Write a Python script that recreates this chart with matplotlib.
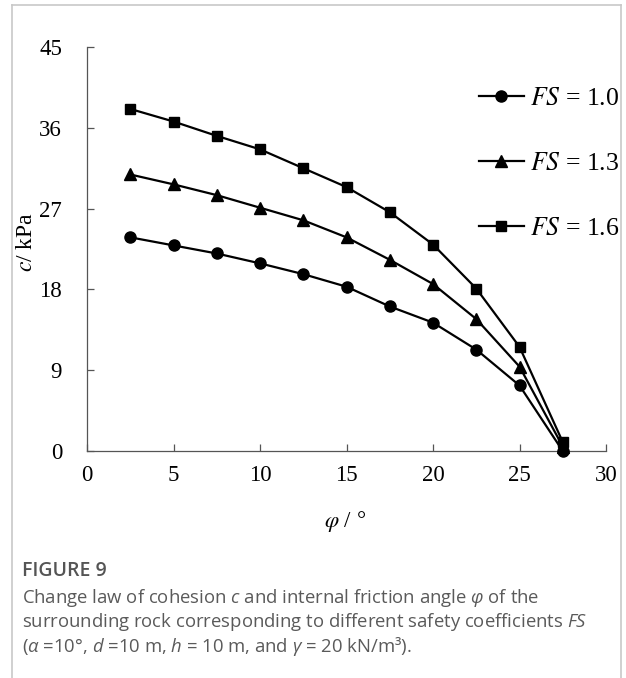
import matplotlib
matplotlib.use("Agg")
import matplotlib.pyplot as plt
from matplotlib.lines import Line2D

## values
phi = [2.5, 5, 7.5, 10, 12.5, 15, 17.5, 20, 22.5, 25, 27.5]
c_fs10 = [23.8, 22.9, 22.0, 20.9, 19.7, 18.3, 16.1, 14.3, 11.3, 7.3, 0.0]
c_fs13 = [30.8, 29.7, 28.5, 27.1, 25.7, 23.8, 21.3, 18.6, 14.7, 9.4, 0.5]
c_fs16 = [38.1, 36.7, 35.1, 33.6, 31.5, 29.4, 26.6, 23.0, 18.1, 11.6, 1.0]
series_labels = ['1.0', '1.3', '1.6']
series_markers = ['o', '^', 's']
x_ticks = [0, 5, 10, 15, 20, 25, 30]
y_ticks = [0, 9, 18, 27, 36, 45]

caption_title = "FIGURE 9"
caption_lines = [
    r"Change law of cohesion $c$ and internal friction angle $\varphi$ of the",
    r"surrounding rock corresponding to different safety coefficients $FS$",
    r"($\alpha$ =10°, $d$ =10 m, $h$ = 10 m, and $\gamma$ = 20 kN/m³).",
]

plt.rcParams['mathtext.fontset'] = 'custom'
plt.rcParams['mathtext.rm'] = 'Open Sans'
plt.rcParams['mathtext.it'] = 'Open Sans:italic'

W, H = 626, 678
fig = plt.figure(figsize=(W / 100, H / 100), dpi=100)

def fx(px):
    return px / W

def fy(py):
    return 1 - py / H

serif = 'Liberation Serif'

ax = fig.add_axes([fx(87), fy(451), fx(606) - fx(87), fy(47) - fy(451)])

for vals, lab, mk in zip([c_fs10, c_fs13, c_fs16], series_labels, series_markers):
    ax.plot(phi, vals, color='black', lw=1.6, marker=mk, ms=8 if mk != 's' else 7.5,
            clip_on=False, zorder=3, label=r'$FS$ = ' + lab)

ax.set_xlim(0, 30)
ax.set_ylim(0, 45)
ax.set_xticks(x_ticks)
ax.set_yticks(y_ticks)
for s in ['top', 'right']:
    ax.spines[s].set_visible(False)
for s in ['left', 'bottom']:
    ax.spines[s].set_color('#555555')
    ax.spines[s].set_linewidth(0.9)
ax.tick_params(axis='both', direction='in', length=5, width=0.9, color='#555555',
               labelsize=16.5)
ax.tick_params(axis='x', pad=10)
ax.tick_params(axis='y', pad=18)
for lbl in ax.get_xticklabels() + ax.get_yticklabels():
    lbl.set_fontfamily(serif)

# legend
leg = ax.legend(loc='upper left', bbox_to_anchor=(fx(479), fy(87)), bbox_transform=fig.transFigure,
                frameon=False, borderpad=0, borderaxespad=0, handlelength=1.75,
                handletextpad=0.25, labelspacing=1.63, prop={'family': serif, 'size': 18.5})
for t in leg.get_texts():
    t.set_math_fontfamily('stix')

# axis labels
fig.text(fx(26), fy(242), r'$c$/ kPa', rotation=90, ha='center', va='center',
         family=serif, fontsize=17, math_fontfamily='stix')
fig.text(fx(345), fy(522), r'$\varphi$ / °', ha='center', va='center',
         family=serif, fontsize=16.5, math_fontfamily='stix')

# caption
fig.text(fx(22), fy(571), caption_title, ha='left', va='center', family='Open Sans',
         fontweight='semibold', fontsize=14, color='#555555')
for i, line in enumerate(caption_lines):
    fig.text(fx(22), fy(598 + 24 * i), line, ha='left', va='center', family='Open Sans',
             fontsize=13.3, color='#5a5a5a')

# grey frame round the panel
frame = dict(color='#c8c8c8', lw=1.2, transform=fig.transFigure)
fig.add_artist(Line2D([fx(12), fx(12)], [fy(5), 0], **frame))
fig.add_artist(Line2D([fx(12), fx(621)], [fy(5), fy(5)], **frame))
fig.add_artist(Line2D([fx(621), fx(621)], [fy(5), 0], **frame))

fig.savefig('out.png', dpi=100)
